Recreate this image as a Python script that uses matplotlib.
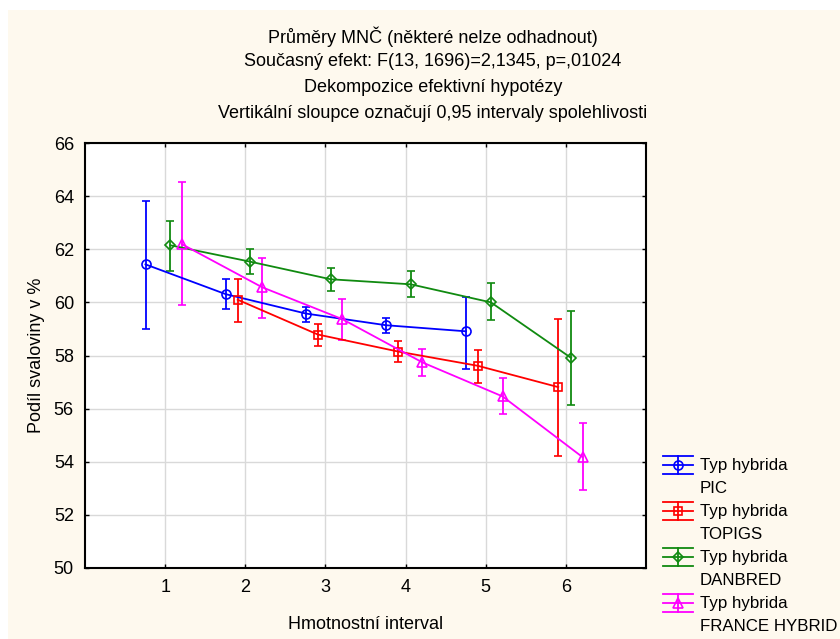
import matplotlib
matplotlib.use("Agg")
import matplotlib.pyplot as plt
from matplotlib.lines import Line2D
from matplotlib.patches import Rectangle
import numpy as np

plt.rcParams['font.family'] = ['Liberation Sans', 'DejaVu Sans']

# ---- data ----
intervals = [1, 2, 3, 4, 5, 6]
xtick_labels = ["1", "2", "3", "4", "5", "6"]
series_names = ["PIC", "TOPIGS", "DANBRED", "FRANCE HYBRID"]

pic_x = [1, 2, 3, 4, 5]
pic_mean = [61.43, 60.31, 59.58, 59.14, 58.91]
pic_low = [58.99, 59.74, 59.28, 58.84, 57.51]
pic_high = [63.80, 60.89, 59.81, 59.40, 60.21]

topigs_x = [2, 3, 4, 5, 6]
topigs_mean = [60.10, 58.79, 58.15, 57.61, 56.81]
topigs_low = [59.27, 58.35, 57.76, 56.97, 54.21]
topigs_high = [60.87, 59.18, 58.54, 58.22, 59.37]

danbred_x = [1, 2, 3, 4, 5, 6]
danbred_mean = [62.15, 61.53, 60.87, 60.68, 60.00, 57.91]
danbred_low = [61.18, 61.06, 60.44, 60.20, 59.32, 56.15]
danbred_high = [63.07, 62.00, 61.30, 61.17, 60.72, 59.67]

france_x = [1, 2, 3, 4, 5, 6]
france_mean = [62.19, 60.57, 59.37, 57.74, 56.46, 54.17]
france_low = [59.92, 59.42, 58.58, 57.22, 55.80, 52.95]
france_high = [64.54, 61.68, 60.12, 58.25, 57.14, 55.47]

# ---- styles ----
W, H = 840, 639
FS = 13
LFS = 12.2
fig = plt.figure(figsize=(W / 100, H / 100), dpi=100)
fig.patch.set_facecolor('white')
fig.add_artist(Rectangle((8 / W, 0), 1, 1 - 10 / H, transform=fig.transFigure,
                         facecolor='#fef9ee', edgecolor='none', zorder=-10))

def fx(px):
    return px / W

def fy(py):
    return 1 - py / H

ax = fig.add_axes([fx(85), fy(568), fx(646) - fx(85), fy(143) - fy(568)])
ax.set_facecolor('white')

specs = [
    (pic_x, pic_mean, pic_low, pic_high, '#0000ff', 'o', 6.5, -0.245),
    (topigs_x, topigs_mean, topigs_low, topigs_high, '#ff0000', 's', 6, -0.095),
    (danbred_x, danbred_mean, danbred_low, danbred_high, '#108a10', 'D', 5.5, 0.065),
    (france_x, france_mean, france_low, france_high, '#ff00ff', '^', 6.5, 0.21),
]

for xs, m, lo, hi, col, mk, ms, off in specs:
    xs = np.array(xs, dtype=float) + off
    m = np.array(m)
    yerr = np.vstack([m - np.array(lo), np.array(hi) - m])
    ax.errorbar(xs, m, yerr=yerr, color=col, marker=mk, ms=ms, mfc='none',
                mec=col, mew=1.2, lw=1.3, elinewidth=1.3, capsize=3,
                capthick=1.3, zorder=3)

ax.set_xlim(0, 7)
ax.set_ylim(50, 66)
ax.set_xticks(intervals)
ax.set_xticklabels(xtick_labels)
ax.set_yticks(np.arange(50, 67, 2))
ax.grid(True, color='#d9d9d9', lw=1)
ax.set_axisbelow(True)
ax.tick_params(direction='in', length=3, width=1, top=True, right=True,
               labelsize=FS, pad=8, colors='black')
for s in ax.spines.values():
    s.set_linewidth(1.5)
    s.set_color('black')

ax.set_xlabel("Hmotnostní interval", fontsize=FS, labelpad=14)
ax.set_ylabel("Podíl svaloviny v %", fontsize=FS, labelpad=6)

titles = ["Průměry MNČ (některé nelze odhadnout)",
          "Současný efekt: F(13, 1696)=2,1345, p=,01024",
          "Dekompozice efektivní hypotézy",
          "Vertikální sloupce označují 0,95 intervaly spolehlivosti"]
for t, py in zip(titles, [37, 61, 87, 114]):
    fig.text(fx(433), fy(py), t, ha='center', va='center', fontsize=FS)

# ---- legend ----
for i, (xs, m, lo, hi, col, mk, ms, off) in enumerate(specs):
    mid = 465.3 + 46 * i
    for dy in (-9, 0, 9):
        fig.add_artist(Line2D([fx(663), fx(693)], [fy(mid + dy)] * 2,
                              transform=fig.transFigure, color=col, lw=1.3))
    fig.add_artist(Line2D([fx(678), fx(678)], [fy(mid - 9), fy(mid + 9)],
                          transform=fig.transFigure, color=col, lw=1.3))
    fig.add_artist(Line2D([fx(678)], [fy(mid)], transform=fig.transFigure,
                          marker=mk, ms=ms, mfc='none', mec=col, mew=1.2))
    fig.text(fx(700), fy(mid), "Typ hybrida", ha='left', va='center', fontsize=LFS)
    fig.text(fx(700), fy(mid + 23), series_names[i], ha='left', va='center', fontsize=LFS)

fig.savefig("out.png", dpi=100)
